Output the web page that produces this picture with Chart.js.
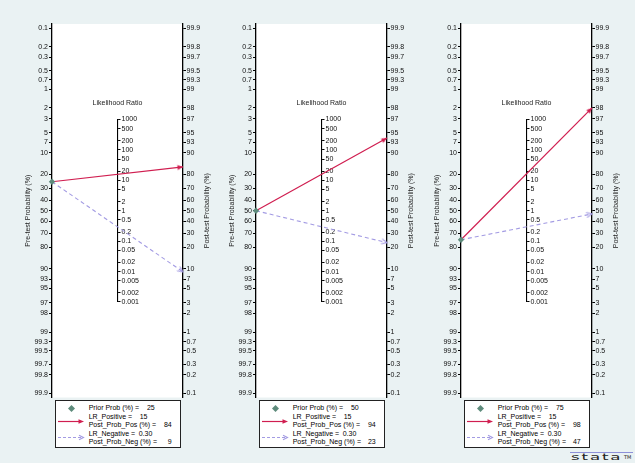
<!DOCTYPE html>
<html>
<head>
<meta charset="utf-8">
<script src="https://cdn.jsdelivr.net/npm/chart.js@4.4.1/dist/chart.umd.min.js"></script>
<style>
html,body{margin:0;padding:0;}
body{width:635px;height:463px;background:#EAF2F3;position:relative;overflow:hidden;font-family:'Liberation Sans',Arial,sans-serif;}
.panel{position:absolute;top:0;width:230px;height:463px;}
.panel canvas{position:absolute;left:0;top:0;}
.legend{position:absolute;top:400px;width:126px;height:48px;box-sizing:border-box;border:1px solid #222;background:#fff;font-size:7px;color:#000;}
.legend span,.legend svg{position:absolute;white-space:nowrap;line-height:8px;}
#logoLine{position:absolute;left:570px;top:451.5px;width:63px;height:0;border-top:1.5px solid #8D90D8;}
#logo{position:absolute;left:571px;top:453px;font-family:'DejaVu Sans',sans-serif;font-size:9px;line-height:9px;letter-spacing:1px;color:#222;transform:scaleX(1.85);transform-origin:0 0;}
#tm{position:absolute;left:624px;top:453.5px;font-family:'DejaVu Sans',sans-serif;font-size:5px;line-height:6px;color:#222;}
</style>
</head>
<body>
<div id="logoLine"></div><div id="logo">stata</div><div id="tm">TM</div>
<script>
// ---- data ----
const priorProb   = [25, 50, 75];
const lrPositive  = [15, 15, 15];
const lrNegative  = [0.30, 0.30, 0.30];
const postProbPos = [84, 94, 98];
const postProbNeg = [9, 23, 47];
const preTicks  = [0.1,0.2,0.3,0.5,0.7,1,2,3,5,7,10,20,30,40,50,60,70,80,90,93,95,97,98,99,99.3,99.5,99.7,99.8,99.9];
const postTicks = [99.9,99.8,99.7,99.5,99.3,99,98,97,95,93,90,80,70,60,50,40,30,20,10,7,5,3,2,1,0.7,0.5,0.3,0.2,0.1];
const lrTicks   = [1000,500,200,100,50,20,10,5,2,1,0.5,0.2,0.1,0.05,0.02,0.01,0.005,0.002,0.001];

// ---- styling / layout ----
const RED = '#D01E50', LAV = '#A39BE3', GREEN = '#5E8B7C';
const panelLefts = [0, 204, 409];
const V_MAX = 7.07;

// nomogram transforms (logit scale)
const preV  = p => Math.log((100 - p) / p);
const postV = p => Math.log(p / (100 - p));
const lrV   = r => Math.log(r) / 2;

Chart.defaults.font.family = "'Liberation Sans', Arial, sans-serif";
Chart.defaults.font.size = 7;
Chart.defaults.color = '#111';

function arrowHead(color, open) {
  const c = document.createElement('canvas');
  c.width = 14; c.height = 8;
  const g = c.getContext('2d');
  g.beginPath();
  g.moveTo(1.5, 1.5); g.lineTo(7, 4); g.lineTo(1.5, 6.5);
  if (open) { g.strokeStyle = color; g.lineWidth = 1.1; g.stroke(); }
  else { g.closePath(); g.fillStyle = color; g.fill(); }
  return c;
}
const redHead = arrowHead(RED, false);
const lavHead = arrowHead(LAV, true);

function rotationOf(c) {
  const ch = c.chart, xs = ch.scales.x, ys = ch.scales.yL;
  const d = c.dataset.data;
  const dx = xs.getPixelForValue(d[1].x) - xs.getPixelForValue(d[0].x);
  const dy = ys.getPixelForValue(d[1].y) - ys.getPixelForValue(d[0].y);
  return Math.atan2(dy, dx) * 180 / Math.PI;
}

const nomogramPlugin = {
  id: 'nomogram',
  afterLayout(chart) {
    const m = chart.scales.yM, yl = chart.scales.yL, xs = chart.scales.x;
    const cx = xs.getPixelForValue(0.5);
    m.left = cx; m.right = cx + 40; m.width = 40;
    m.top = yl.getPixelForValue(m.max);
    m.bottom = yl.getPixelForValue(m.min);
    m.height = m.bottom - m.top;
    m.configure();
  },
  beforeDraw(chart) {
    const {ctx, chartArea: a} = chart;
    ctx.save();
    ctx.fillStyle = '#fff';
    ctx.fillRect(a.left, a.top, a.right - a.left, a.bottom - a.top);
    ctx.restore();
  },
  afterDraw(chart) {
    const {ctx, chartArea: a} = chart;
    const m = chart.scales.yM;
    ctx.save();
    ctx.fillStyle = '#222';
    ctx.font = "7px 'Liberation Sans', Arial, sans-serif";
    ctx.textAlign = 'center';
    ctx.textBaseline = 'middle';
    ctx.fillText('Likelihood Ratio', m.left, m.top - 16.5);
    const cy = (a.top + a.bottom) / 2;
    [[a.left - 24, 'Pre-test Probability (%)'], [a.right + 24, 'Post-test Probability (%)']].forEach(([x, t]) => {
      ctx.save(); ctx.translate(x, cy); ctx.rotate(-Math.PI / 2); ctx.fillText(t, 0, 0); ctx.restore();
    });
    ctx.restore();
  }
};

function axisOpts(position, min, max, ticksArr, tf, width, pad) {
  return {
    type: 'linear', position, min, max,
    afterBuildTicks: a => { a.ticks = ticksArr.map(v => ({value: tf(v)})); },
    afterFit: a => { a.width = width; },
    ticks: { autoSkip: false, padding: pad, color: '#111', font: {size: 7},
             callback: (v, i) => String(ticksArr[i]) },
    grid: { drawOnChartArea: false, drawTicks: true, tickLength: 3, color: '#000', lineWidth: 1 },
    border: { display: true, color: '#000', width: 1.3 }
  };
}

function makePanel(i) {
  const left = panelLefts[i];
  const div = document.createElement('div');
  div.className = 'panel';
  div.style.left = left + 'px';
  const cv = document.createElement('canvas');
  cv.width = 230; cv.height = 463;
  cv.style.width = '230px'; cv.style.height = '463px';
  div.appendChild(cv);
  document.body.appendChild(div);

  const pre = preV(priorProb[i]);
  new Chart(cv, {
    type: 'scatter',
    data: { datasets: [
      { label: 'Prior Prob (%)', data: [{x: 0, y: pre}], yAxisID: 'yL', order: 0,
        pointStyle: 'rectRot', pointRadius: 3.2, backgroundColor: GREEN, borderColor: GREEN, borderWidth: 0, clip: false },
      { label: 'LR_Positive', data: [{x: 0, y: pre}, {x: 1, y: postV(postProbPos[i])}], yAxisID: 'yL', order: 1,
        showLine: true, borderColor: RED, backgroundColor: RED, borderWidth: 1.2,
        pointRadius: [0, 3], pointStyle: redHead, pointRotation: rotationOf, clip: false },
      { label: 'LR_Negative', data: [{x: 0, y: pre}, {x: 1, y: postV(postProbNeg[i])}], yAxisID: 'yL', order: 1,
        showLine: true, borderColor: LAV, backgroundColor: LAV, borderWidth: 1.1, borderDash: [4, 3],
        pointRadius: [0, 3], pointStyle: lavHead, pointRotation: rotationOf, clip: false }
    ]},
    options: {
      responsive: false, animation: false, events: [],
      layout: { padding: { left: 0, right: 0, top: 24, bottom: 65.5 } },
      plugins: { legend: { display: false }, tooltip: { enabled: false } },
      scales: {
        x: { type: 'linear', min: 0, max: 1, display: false },
        yL: axisOpts('left', -V_MAX, V_MAX, preTicks, preV, 52, 1),
        yR: axisOpts('right', -V_MAX, V_MAX, postTicks, postV, 47, 0.5),
        yM: Object.assign(axisOpts('right', lrV(0.001), lrV(1000), lrTicks, lrV, 0, 1),
                          { border: { display: true, color: '#000', width: 1.1 } })
      }
    },
    plugins: [nomogramPlugin]
  });

  // legend box
  const lg = document.createElement('div');
  lg.className = 'legend';
  lg.style.left = (left + 54.7) + 'px';
  const inner = 124;
  const span = (txt, css) => `<span style="${css}">${txt}</span>`;
  lg.innerHTML =
    `<svg width="7" height="7" style="left:12.5px;top:3.5px"><polygon points="3.5,0 7,3.5 3.5,7 0,3.5" fill="${GREEN}"/></svg>` +
    span('Prior Prob (%) =', 'left:33px;top:3px') +
    span(String(priorProb[i]), `right:${inner - 99}px;top:3px`) +
    `<svg width="27" height="7" style="left:2.5px;top:16.5px"><line x1="0" y1="3.5" x2="22" y2="3.5" stroke="${RED}" stroke-width="1.2"/><polygon points="26,3.5 20.5,1.3 20.5,5.7" fill="${RED}"/></svg>` +
    span('LR_Positive =', 'left:33px;top:12px') +
    span(String(lrPositive[i]), 'left:84px;top:12px') +
    span('Post_Prob_Pos (%) =', 'left:33px;top:20px') +
    span(String(postProbPos[i]), `right:${inner - 116}px;top:20px`) +
    `<svg width="27" height="7" style="left:2.5px;top:33px"><line x1="0" y1="3.5" x2="24" y2="3.5" stroke="${LAV}" stroke-width="1.1" stroke-dasharray="3,2"/><polyline points="21,1.3 25.5,3.5 21,5.7" fill="none" stroke="${LAV}" stroke-width="1.1"/></svg>` +
    span('LR_Negative =', 'left:33px;top:28.5px') +
    span(lrNegative[i].toFixed(2), 'left:83px;top:28.5px') +
    span('Post_Prob_Neg (%) =', 'left:33px;top:36.5px') +
    span(String(postProbNeg[i]), `right:${inner - 116}px;top:36.5px`);
  document.body.appendChild(lg);
}

[0, 1, 2].forEach(makePanel);
</script>
</body>
</html>
